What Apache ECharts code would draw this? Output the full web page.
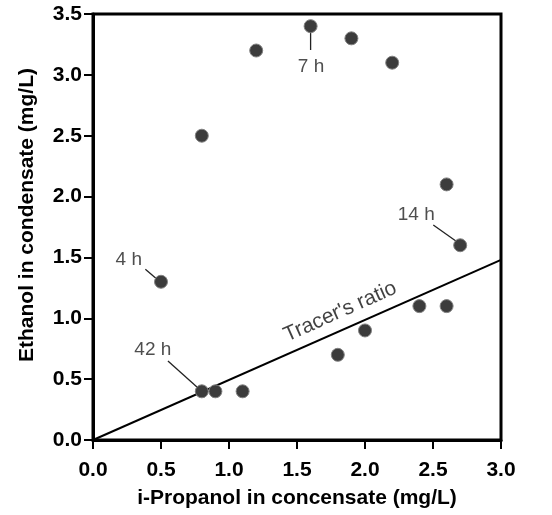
<!DOCTYPE html>
<html><head><meta charset="utf-8">
<script src="https://cdn.jsdelivr.net/npm/echarts@6/dist/echarts.min.js"></script>
<style>html,body{margin:0;padding:0;background:#fff}#c{width:552px;height:515px}</style>
</head><body><div id="c"></div>
<script>
var propanol = [0.5, 0.8, 1.2, 1.6, 1.9, 2.2, 2.6, 2.7, 0.8, 0.9, 1.1, 1.8, 2.0, 2.4, 2.6];
var ethanol  = [1.3, 2.5, 3.2, 3.4, 3.3, 3.1, 2.1, 1.6, 0.4, 0.4, 0.4, 0.7, 0.9, 1.1, 1.1];
var tracerLine = [[0, 0], [3.0, 1.48]];
var xTicks = [0.0, 0.5, 1.0, 1.5, 2.0, 2.5, 3.0];
var yTicks = [0.0, 0.5, 1.0, 1.5, 2.0, 2.5, 3.0, 3.5];
var labels = ['7 h', '14 h', '4 h', '42 h'];
var labelPos = [[1.603, 3.067], [2.377, 1.849], [0.263, 1.479], [0.44, 0.74]];
var leaders = [
  [[1.6, 3.4], [1.6, 3.205]],
  [[2.502, 1.767], [2.676, 1.629]],
  [[0.385, 1.403], [0.471, 1.320]],
  [[0.551, 0.649], [0.789, 0.411]]
];
var tracerLabel = "Tracer's ratio";
var tracerLabelPos = [1.818, 1.054];

var chart = echarts.init(document.getElementById('c'));
var font = '"Liberation Sans", Arial, sans-serif';
var series = [];
series.push({
  type: 'line', data: tracerLine, showSymbol: false, symbol: 'none', silent: true,
  lineStyle: {color: '#000', width: 2}, z: 2
});
leaders.forEach(function (seg) {
  series.push({type: 'line', data: seg, symbol: 'none', silent: true,
    lineStyle: {color: '#222', width: 1.3}, z: 2});
});
series.push({
  type: 'scatter', symbolSize: 13,
  data: propanol.map(function (x, i) { return [x, ethanol[i]]; }),
  itemStyle: {color: '#3c3c3c', borderColor: '#808080', borderWidth: 1, opacity: 1},
  z: 5
});
series.push({
  type: 'scatter', symbolSize: 0, silent: true,
  data: labelPos.map(function (p, i) { return {value: p, name: labels[i]}; }),
  label: {show: true, position: 'inside', formatter: '{b}', color: '#222',
    fontFamily: font, fontSize: 19},
  z: 6
});
series.push({
  type: 'scatter', symbolSize: 0, silent: true,
  data: [{value: tracerLabelPos, name: tracerLabel}],
  label: {show: true, position: 'inside', formatter: '{b}', color: '#111',
    fontFamily: font, fontSize: 21, rotate: 24},
  z: 6
});

chart.setOption({
  animation: false,
  grid: {left: 93, right: 51, top: 14, bottom: 75, show: true,
    borderColor: '#000', borderWidth: 3, backgroundColor: 'transparent'},
  xAxis: {
    type: 'value', min: xTicks[0], max: xTicks[xTicks.length - 1], interval: 0.5,
    name: 'i-Propanol in concensate (mg/L)', nameLocation: 'middle', nameGap: 48,
    nameTextStyle: {fontFamily: font, fontWeight: 'bold', fontSize: 21, color: '#000'},
    axisLine: {lineStyle: {color: '#000', width: 3}},
    axisTick: {inside: false, length: 9, lineStyle: {color: '#000', width: 2}},
    axisLabel: {fontFamily: font, fontWeight: 'bold', fontSize: 21, color: '#000', margin: 20,
      formatter: function (v) { return v.toFixed(1); }},
    splitLine: {show: false}
  },
  yAxis: {
    type: 'value', min: yTicks[0], max: yTicks[yTicks.length - 1], interval: 0.5,
    name: 'Ethanol in condensate (mg/L)', nameLocation: 'middle', nameGap: 55,
    nameTextStyle: {fontFamily: font, fontWeight: 'bold', fontSize: 21, color: '#000',
      padding: [0, 0, 0, 24]},
    axisLine: {lineStyle: {color: '#000', width: 3}},
    axisTick: {inside: false, length: 9, lineStyle: {color: '#000', width: 2}},
    axisLabel: {fontFamily: font, fontWeight: 'bold', fontSize: 21, color: '#000', margin: 11,
      formatter: function (v) { return v.toFixed(1); }},
    splitLine: {show: false}
  },
  series: series
});
</script></body></html>
